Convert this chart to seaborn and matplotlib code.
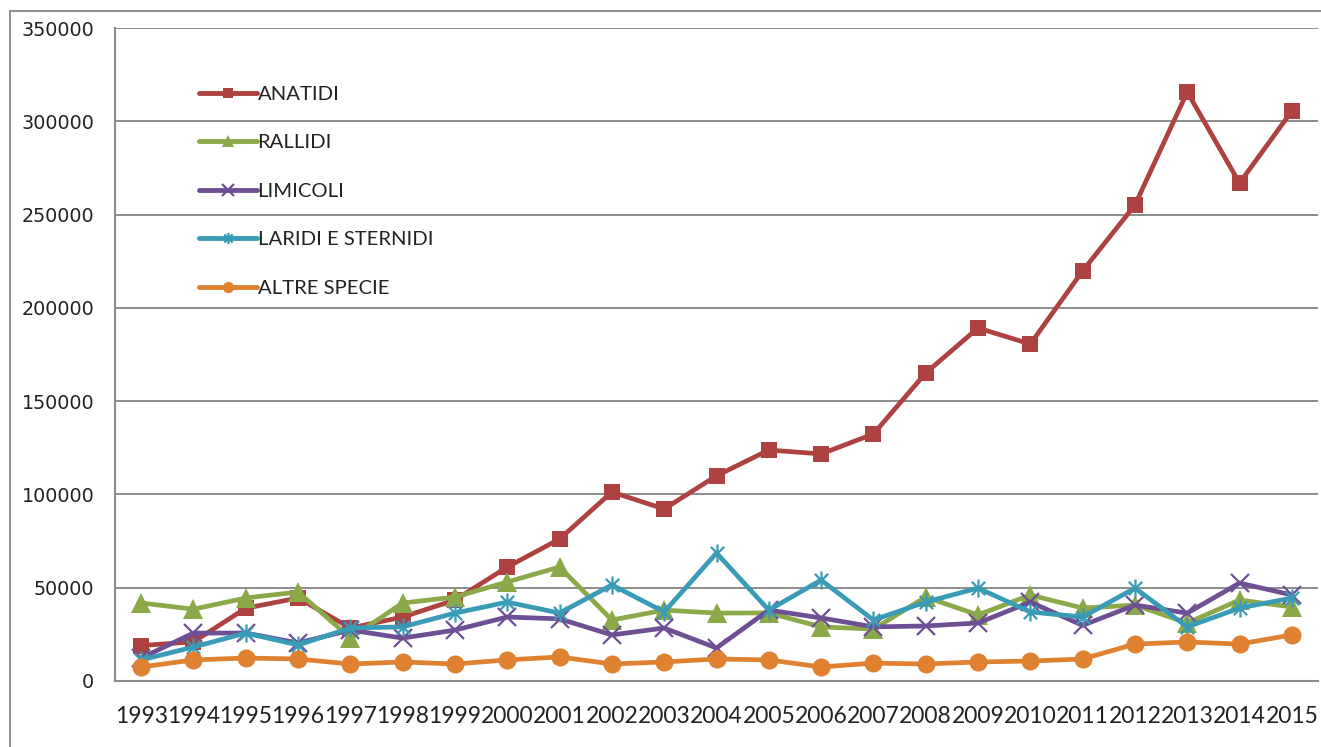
import numpy as np
import pandas as pd
import matplotlib
matplotlib.use("Agg")
import matplotlib.pyplot as plt
from matplotlib.path import Path
from matplotlib.lines import Line2D
import seaborn as sns

years = list(range(1993, 2016))
anatidi = [19000, 21000, 39000, 44500, 28400, 34300, 43400, 61100, 76100, 101300, 92200, 110000,
           123800, 121700, 132400, 165100, 189200, 180600, 219800, 255100, 315700, 266900, 305500]
rallidi = [41800, 38500, 44500, 47700, 23000, 41800, 45000, 53100, 61100, 32700, 38000, 36400,
           36500, 29000, 27800, 45000, 35400, 46100, 39100, 40700, 31100, 43400, 39700]
limicoli = [12300, 25700, 25700, 20400, 27300, 23000, 27300, 34300, 33300, 24700, 28400, 17700,
            38000, 33800, 29000, 29500, 31100, 42300, 29800, 40700, 36400, 52500, 46100]
laridi = [11300, 18200, 25700, 19300, 28400, 29000, 36400, 42300, 36400, 51500, 37000, 68600,
          38000, 54100, 32700, 42300, 49800, 37000, 34300, 49800, 29000, 39100, 44500]
altre = [7500, 11300, 12300, 11800, 9100, 10200, 9100, 11300, 12900, 9100, 10200, 11800,
         11300, 7500, 9600, 9100, 10200, 10700, 11800, 19800, 20900, 19800, 24700]
series_names = ["ANATIDI", "RALLIDI", "LIMICOLI", "LARIDI E STERNIDI", "ALTRE SPECIE"]
y_ticks = [0, 50000, 100000, 150000, 200000, 250000, 300000, 350000]

star = Path([(-1, -1), (1, 1), (-1, 1), (1, -1), (0, -1.35), (0, 1.35)],
            [Path.MOVETO, Path.LINETO, Path.MOVETO, Path.LINETO, Path.MOVETO, Path.LINETO])

styles = {
    "ANATIDI": dict(color="#AE4240", marker="s", ms=12, mew=0, mfc="#AE4240"),
    "RALLIDI": dict(color="#8BA948", marker="^", ms=14, mew=0, mfc="#8BA948"),
    "LIMICOLI": dict(color="#6E4F94", marker="x", ms=13, mew=1.6, mfc="none"),
    "LARIDI E STERNIDI": dict(color="#3A9BB6", marker=star, ms=13, mew=1.6, mfc="none"),
    "ALTRE SPECIE": dict(color="#E08132", marker="o", ms=13, mew=0, mfc="#E08132"),
}

sns.set_theme(style="white")
plt.rcParams["font.family"] = ["DejaVu Sans"]

fig = plt.figure(figsize=(13.21, 7.47), dpi=100)
ax = fig.add_axes([115 / 1321, 66 / 747, (1318 - 115) / 1321, (719 - 66) / 747])

data = dict(zip(series_names, [anatidi, rallidi, limicoli, laridi, altre]))
handles = []
for name in series_names:
    st = styles[name]
    df = pd.DataFrame({"year": years, "value": data[name]})
    sns.lineplot(data=df, x="year", y="value", ax=ax, color=st["color"], linewidth=3.4,
                 marker=st["marker"], markersize=st["ms"], markeredgewidth=st["mew"],
                 markeredgecolor=st["color"], markerfacecolor=st["mfc"], label=name,
                 legend=False, zorder=3)
    handles.append(Line2D([0], [0], color=st["color"], linewidth=3.5, marker=st["marker"],
                          markersize=st["ms"] * 0.62, markeredgewidth=st["mew"],
                          markeredgecolor=st["color"], markerfacecolor=st["mfc"],
                          solid_capstyle="round"))

ax.set_xlim(years[0] - 0.5, years[-1] + 0.5)
ax.set_ylim(0, 350000)
ax.set_yticks(y_ticks)
ax.set_yticklabels([str(v) for v in y_ticks], fontsize=13.8, color="#222222")
ax.set_xticks(years)
ax.set_xticklabels([str(y) for y in years], fontsize=16.5, color="#222222", family="Lato")
ax.set_xticks(np.arange(years[0] - 0.5, years[-1] + 1.0, 1.0), minor=True)
ax.tick_params(axis="x", which="major", length=0, pad=18)
ax.tick_params(axis="x", which="minor", length=7, width=1.5, color="#8c8c8c")
ax.tick_params(axis="y", which="major", length=7, width=1.5, color="#8c8c8c", pad=8)
ax.set_xlabel("")
ax.set_ylabel("")
ax.grid(axis="y", color="#8c8c8c", linewidth=1.4)
ax.set_axisbelow(True)
for s in ["top", "right"]:
    ax.spines[s].set_visible(False)
for s in ["left", "bottom"]:
    ax.spines[s].set_color("#8c8c8c")
    ax.spines[s].set_linewidth(1.5)

leg = ax.legend(handles, series_names, loc="upper left", bbox_to_anchor=(0.055, 0.94),
                frameon=False, handlelength=2.85, handletextpad=0.02, labelspacing=1.55,
                prop={"family": "Lato", "size": 14.6}, labelcolor="#222222")

# outer chart border (left and top)
fig.add_artist(Line2D([10 / 1321, 10 / 1321], [0, 1 - 11 / 747], transform=fig.transFigure,
                      color="#8c8c8c", linewidth=1.4))
fig.add_artist(Line2D([10 / 1321, 1], [1 - 11 / 747, 1 - 11 / 747], transform=fig.transFigure,
                      color="#8c8c8c", linewidth=1.4))

fig.savefig("out.png", dpi=100)
